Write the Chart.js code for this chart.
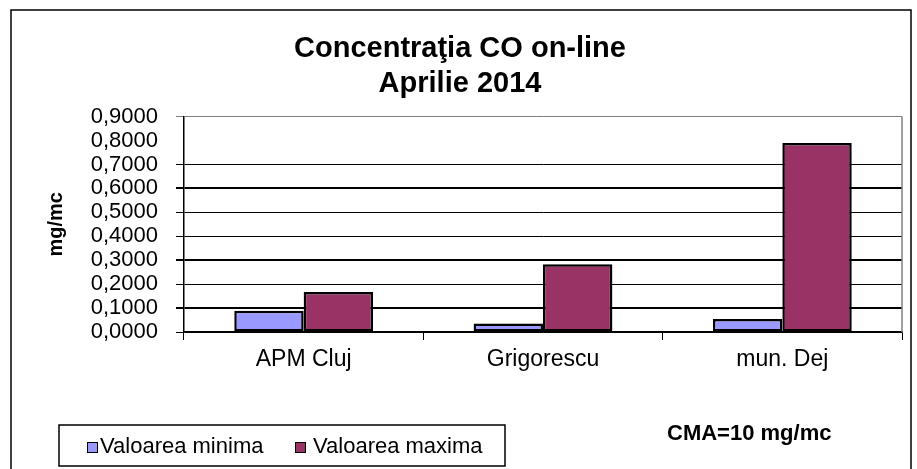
<!DOCTYPE html>
<html>
<head>
<meta charset="utf-8">
<script src="https://cdn.jsdelivr.net/npm/chart.js@4.4.0/dist/chart.umd.min.js"></script>
<style>
  html, body { margin: 0; padding: 0; background: #fff; }
  #wrap { width: 917px; height: 469px; }
</style>
</head>
<body>
<div id="wrap"><canvas id="coChart" width="917" height="469"></canvas></div>
<script>
    const categories = ['APM Cluj', 'Grigorescu', 'mun. Dej'];
    const seriesNames = ['Valoarea minima', 'Valoarea maxima'];
    const minValues = [0.089, 0.036, 0.054];
    const maxValues = [0.167, 0.283, 0.790];
    const titleLines = ['Concentraţia CO on-line', 'Aprilie 2014'];
    const yAxisTitle = 'mg/mc';
    const noteText = 'CMA=10 mg/mc';

    const FONT = '"Liberation Sans", Arial, sans-serif';

    // outer frame, right edge of the plot, legend box and the CMA note
    const extras = {
        id: 'extras',
        afterDatasetsDraw(chart) {
            const ctx = chart.ctx;
            const a = chart.chartArea;
            ctx.save();
            ctx.strokeStyle = '#808080';
            ctx.lineWidth = 1.5;
            ctx.beginPath();
            ctx.moveTo(a.right, a.top);
            ctx.lineTo(a.right, a.bottom);
            ctx.stroke();
            ctx.restore();
        },
        afterDraw(chart) {
            const ctx = chart.ctx;
            ctx.save();
            ctx.strokeStyle = '#000';
            ctx.lineWidth = 1.5;
            ctx.strokeRect(11, 10, 900, 480);

            // legend
            ctx.strokeRect(59, 425, 446, 41);
            const items = [[87, 100], [295, 313]];
            ctx.font = '22px ' + FONT;
            ctx.textBaseline = 'middle';
            ctx.textAlign = 'left';
            chart.data.datasets.forEach(function (ds, i) {
                ctx.fillStyle = ds.backgroundColor;
                ctx.fillRect(items[i][0], 442, 10, 10);
                ctx.lineWidth = 1;
                ctx.strokeRect(items[i][0] + 0.5, 442.5, 10, 10);
                ctx.fillStyle = '#000';
                ctx.fillText(ds.label, items[i][1], 447);
            });

            ctx.font = 'bold 22px ' + FONT;
            ctx.fillText(noteText, 667, 434);
            ctx.restore();
        }
    };

    new Chart(document.getElementById('coChart'), {
        type: 'bar',
        data: {
            labels: categories,
            datasets: [{
                label: seriesNames[0],
                data: minValues,
                backgroundColor: '#9999FF',
                borderColor: '#000',
                borderWidth: 2.5,
                borderSkipped: false
            }, {
                label: seriesNames[1],
                data: maxValues,
                backgroundColor: '#993366',
                borderColor: '#000',
                borderWidth: 2.5,
                borderSkipped: false
            }]
        },
        options: {
            responsive: false,
            animation: false,
            layout: { padding: { left: 18, right: 15, top: 0, bottom: 0 } },
            datasets: { bar: { categoryPercentage: 0.58, barPercentage: 1.0 } },
            plugins: {
                legend: { display: false },
                tooltip: { enabled: false },
                title: {
                    display: true,
                    text: titleLines,
                    color: '#000',
                    font: { family: FONT, size: 29, weight: 'bold', lineHeight: 1.2 },
                    padding: { top: 32, bottom: 15 }
                }
            },
            scales: {
                x: {
                    afterFit(scale) { scale.height = 137; },
                    border: { color: '#000', width: 1.5 },
                    grid: {
                        offset: true,
                        drawOnChartArea: false,
                        color: '#000',
                        tickLength: 8
                    },
                    ticks: {
                        color: '#000',
                        padding: 6,
                        font: { family: FONT, size: 23 }
                    }
                },
                y: {
                    min: 0,
                    max: 0.9,
                    afterFit(scale) { scale.width = 166; },
                    border: { color: '#000', width: 1.5 },
                    grid: {
                        color: function (c) {
                            if (c.index === 9) return '#808080';
                            if (c.index === 8) return 'rgba(0,0,0,0)';
                            return '#000';
                        },
                        lineWidth: function (c) {
                            return [1, 3, 6].indexOf(c.index) >= 0 ? 2 : 1;
                        },
                        tickLength: 8
                    },
                    ticks: {
                        stepSize: 0.1,
                        autoSkip: false,
                        color: '#000',
                        padding: 18,
                        font: { family: FONT, size: 22 },
                        callback: function (v) { return Number(v).toFixed(4).replace('.', ','); }
                    },
                    title: {
                        display: true,
                        text: yAxisTitle,
                        color: '#000',
                        font: { family: FONT, size: 20, weight: 'bold', lineHeight: 1.2 },
                        padding: { top: 26, bottom: 0 }
                    }
                }
            }
        },
        plugins: [extras]
    });
</script>
</body>
</html>
